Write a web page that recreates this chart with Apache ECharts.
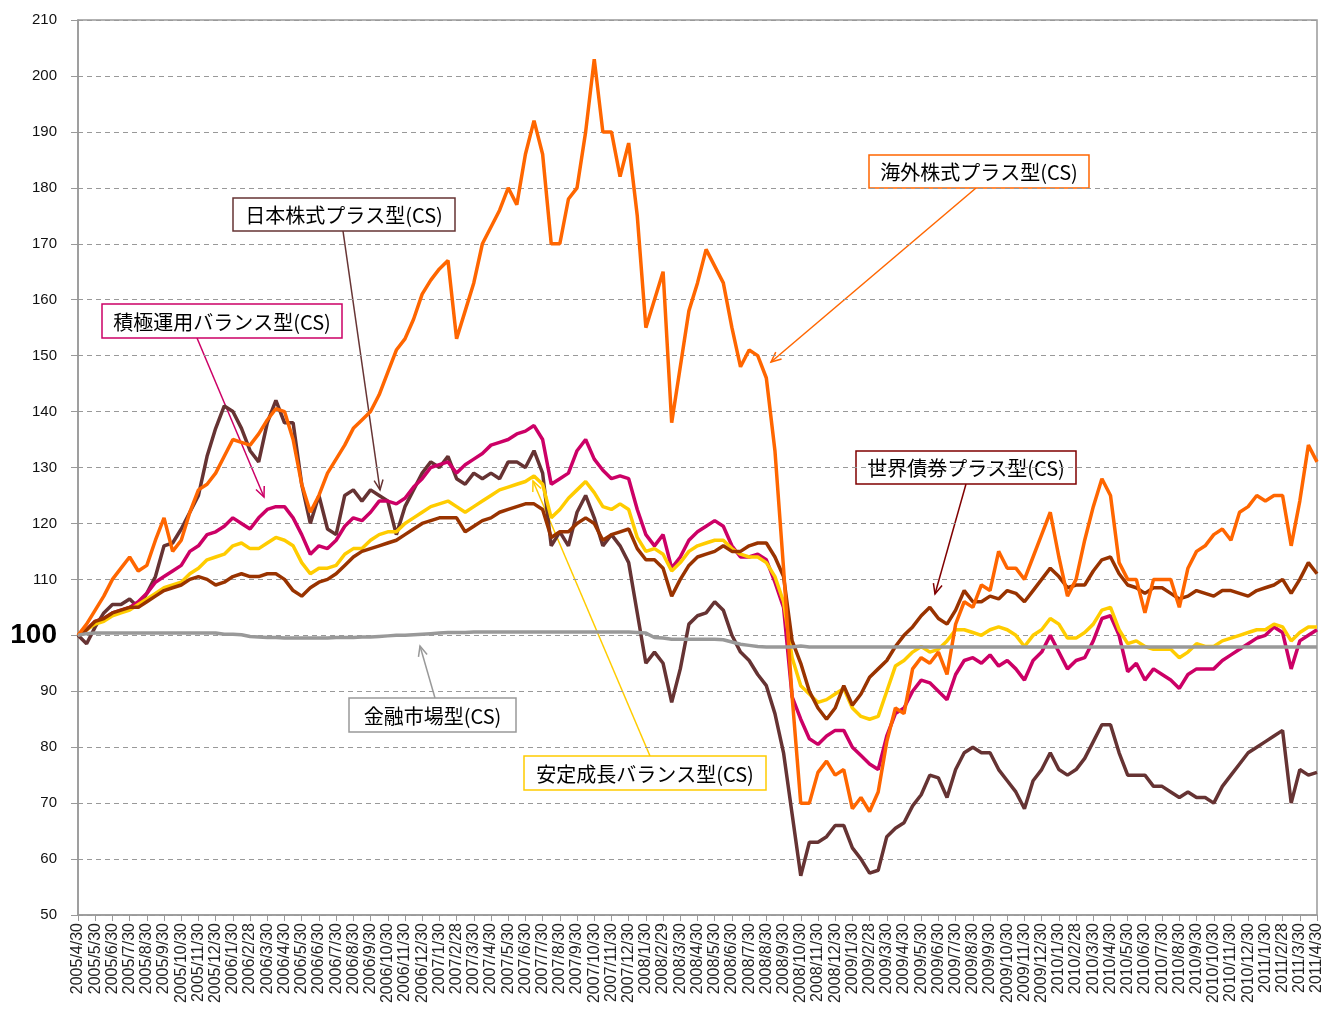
<!DOCTYPE html>
<html>
<head>
<meta charset="utf-8">
<script src="https://cdn.jsdelivr.net/npm/echarts@6/dist/echarts.min.js"></script>
<style>
html, body { margin: 0; padding: 0; background: #fff; }
#chart { width: 1325px; height: 1011px; }
</style>
</head>
<body>
<div id="chart"></div>
<script>
// month-end tick labels (one per month)
var monthLabels = [
    '2005/4/30','2005/5/30','2005/6/30','2005/7/30','2005/8/30','2005/9/30','2005/10/30','2005/11/30','2005/12/30',
    '2006/1/30','2006/2/28','2006/3/30','2006/4/30','2006/5/30','2006/6/30','2006/7/30','2006/8/30','2006/9/30','2006/10/30','2006/11/30','2006/12/30',
    '2007/1/30','2007/2/28','2007/3/30','2007/4/30','2007/5/30','2007/6/30','2007/7/30','2007/8/30','2007/9/30','2007/10/30','2007/11/30','2007/12/30',
    '2008/1/30','2008/2/29','2008/3/30','2008/4/30','2008/5/30','2008/6/30','2008/7/30','2008/8/30','2008/9/30','2008/10/30','2008/11/30','2008/12/30',
    '2009/1/30','2009/2/28','2009/3/30','2009/4/30','2009/5/30','2009/6/30','2009/7/30','2009/8/30','2009/9/30','2009/10/30','2009/11/30','2009/12/30',
    '2010/1/30','2010/2/28','2010/3/30','2010/4/30','2010/5/30','2010/6/30','2010/7/30','2010/8/30','2010/9/30','2010/10/30','2010/11/30','2010/12/30',
    '2011/1/30','2011/2/28','2011/3/30','2011/4/30'
];

// values, twice a month (month end + mid month)
var kaigai = [ // 海外株式プラス型(CS)
    100, 102, 104.5, 107, 110, 112, 114, 111.5, 112.5, 117,
    121, 115, 117, 122, 126, 127, 129, 132, 135, 134.5,
    134, 136, 138.5, 140.5, 140, 135, 127, 122, 125, 129,
    131.5, 134, 137, 138.5, 140, 143, 147, 151, 153, 156.5,
    161, 163.5, 165.5, 167, 153, 158, 163, 170, 173, 176,
    180, 177, 186, 192, 186, 170, 170, 178, 180, 190,
    203, 190, 190, 182, 188, 175, 155, 160, 165, 138,
    148, 158, 163, 169, 166, 163, 155, 148, 151, 150,
    146, 133, 112, 89, 70, 70, 75.5, 77.5, 75, 76,
    69, 71, 68.5, 72, 81, 87, 86, 94, 96, 95,
    97, 93, 102, 106, 105, 109, 108, 115, 112, 112,
    110, 114, 118, 122, 114, 107, 110, 117, 123, 128,
    125, 113, 110, 110, 104, 110, 110, 110, 105, 112,
    115, 116, 118, 119, 117, 122, 123, 125, 124, 125,
    125, 116, 124, 134, 131
];
var nihon = [ // 日本株式プラス型(CS)
    100, 98.5, 101.5, 104, 105.5, 105.5, 106.5, 105, 107.5, 110.5,
    116, 116.5, 119, 122, 125, 132, 137, 141, 140, 137,
    133, 131, 138, 142, 138, 138, 127, 120, 125, 119,
    118, 125, 126, 124, 126, 125, 124, 118, 123, 126,
    129, 131, 130, 132, 128, 127, 129, 128, 129, 128,
    131, 131, 130, 133, 129, 116, 118.5, 116, 122, 125,
    121, 116, 118, 116, 113, 104, 95, 97, 95, 88,
    94, 102, 103.5, 104, 106, 104.5, 100, 97, 95.5, 93,
    91, 86, 79, 68, 57, 63, 63, 64, 66, 66,
    62, 60, 57.5, 58, 64, 65.5, 66.5, 69.5, 71.5, 75,
    74.5, 71, 76, 79, 80, 79, 79, 76, 74, 72,
    69, 74, 76, 79, 76, 75, 76, 78, 81, 84,
    84, 79, 75, 75, 75, 73, 73, 72, 71, 72,
    71, 71, 70, 73, 75, 77, 79, 80, 81, 82,
    83, 70, 76, 75, 75.5
];
var sekkyoku = [ // 積極運用バランス型(CS)
    100, 101, 102.5, 103, 104, 104.5, 105, 106, 107.5, 109.5,
    110.5, 111.5, 112.5, 115, 116, 118, 118.5, 119.5, 121, 120,
    119, 121, 122.5, 123, 123, 121, 118, 114.5, 116, 115.5,
    117, 119.5, 121, 120.5, 122, 124, 124, 123.5, 124.5, 126.5,
    128, 130, 130.5, 131, 129, 130.5, 131.5, 132.5, 134, 134.5,
    135, 136, 136.5, 137.5, 135, 127, 128, 129, 133, 135,
    131.5, 129.5, 128, 128.5, 128, 122.5, 118, 116, 118, 112,
    114, 117, 118.5, 119.5, 120.5, 119.5, 116, 114, 114, 114.5,
    113.5, 109.5, 105, 89, 85, 81.5, 80.5, 82, 83, 83,
    80, 78.5, 77, 76, 82, 86, 87, 90, 92, 91.5,
    90, 88.5, 93, 95.5, 96, 95, 96.5, 94.5, 95.5, 94,
    92, 95.5, 97, 100, 97, 94, 95.5, 96, 99, 103,
    103.5, 100, 93.5, 95, 92, 94, 93, 92, 90.5, 93,
    94, 94, 94, 95.5, 96.5, 97.5, 98.5, 99.5, 100, 101.5,
    100.5, 94, 99, 100, 101
];
var antei = [ // 安定成長バランス型(CS)
    100, 101, 102, 102.5, 103.5, 104, 104.5, 105.5, 106.5, 107.5,
    108.5, 109, 109.5, 111, 112, 113.5, 114, 114.5, 116, 116.5,
    115.5, 115.5, 116.5, 117.5, 117, 116, 113, 111, 112, 112,
    112.5, 114.5, 115.5, 115.5, 117, 118, 118.5, 118.5, 120, 121,
    122, 123, 123.5, 124, 123, 122, 123, 124, 125, 126,
    126.5, 127, 127.5, 128.5, 127, 121, 122.5, 124.5, 126, 127.5,
    125.5, 123, 122.5, 123.5, 122.5, 117.5, 115, 115.5, 114.5, 111.5,
    113, 115, 116, 116.5, 117, 117, 115.5, 114.5, 114, 114,
    113, 110.5, 106, 96, 91, 89.5, 88, 88.5, 89.5, 90.5,
    87, 85.5, 85, 85.5, 90, 94.5, 95.5, 97, 98, 97,
    97.5, 99, 101, 101, 100.5, 100, 101, 101.5, 101, 100,
    98, 100, 101, 103, 102, 99.5, 99.5, 100.5, 102, 104.5,
    105, 101, 98.5, 99, 98, 97.5, 97.5, 97.5, 96, 97,
    98.5, 98, 98, 99, 99.5, 100, 100.5, 101, 101, 102,
    101.5, 99, 100.5, 101.5, 101.5
];
var sekai = [ // 世界債券プラス型(CS)
    100, 101, 102.5, 103, 104, 104.5, 105, 105, 106, 107,
    108, 108.5, 109, 110, 110.5, 110, 109, 109.5, 110.5, 111,
    110.5, 110.5, 111, 111, 110, 108, 107, 108.5, 109.5, 110,
    111, 112.5, 114, 115, 115.5, 116, 116.5, 117, 118, 119,
    120, 120.5, 121, 121, 121, 118.5, 119.5, 120.5, 121, 122,
    122.5, 123, 123.5, 123.5, 122.5, 117.5, 118.5, 118.5, 120, 121,
    120, 117, 118, 118.5, 119, 115.5, 113.5, 113.5, 112, 107,
    110, 112.5, 114, 114.5, 115, 116, 115, 115, 116, 116.5,
    116.5, 114, 110.5, 99, 95, 90, 87, 85, 87, 91,
    87.5, 89.5, 92.5, 94, 95.5, 98, 100, 101.5, 103.5, 105,
    103, 102, 104.5, 108, 106, 106, 107, 106.5, 108, 107.5,
    106, 108, 110, 112, 110.5, 108.5, 109, 109, 111.5, 113.5,
    114, 111, 109, 108.5, 107.5, 108.5, 108.5, 107.5, 106.5, 107,
    108, 107.5, 107, 108, 108, 107.5, 107, 108, 108.5, 109,
    110, 107.5, 110, 113, 111
];
var kinyu = [ // 金融市場型(CS)
    100, 100.3, 100.4, 100.4, 100.4, 100.4, 100.4, 100.4, 100.4, 100.4,
    100.4, 100.4, 100.4, 100.4, 100.4, 100.4, 100.4, 100.2, 100.2, 100.1,
    99.8, 99.7, 99.6, 99.6, 99.5, 99.5, 99.5, 99.5, 99.5, 99.5,
    99.6, 99.6, 99.6, 99.7, 99.7, 99.8, 99.9, 100, 100, 100.1,
    100.2, 100.3, 100.4, 100.5, 100.5, 100.5, 100.6, 100.6, 100.6, 100.6,
    100.6, 100.6, 100.6, 100.6, 100.6, 100.6, 100.6, 100.6, 100.6, 100.6,
    100.6, 100.6, 100.6, 100.6, 100.6, 100.5, 100.4, 99.6, 99.5, 99.3,
    99.3, 99.3, 99.3, 99.3, 99.3, 99.2, 98.8, 98.4, 98.2, 98,
    97.9, 97.9, 97.9, 97.9, 98.1, 97.9, 97.9, 97.9, 97.9, 97.9,
    97.9, 97.9, 97.9, 97.9, 97.9, 97.9, 97.9, 97.9, 97.9, 97.9,
    97.9, 97.9, 97.9, 97.9, 97.9, 97.9, 97.9, 97.9, 97.9, 97.9,
    97.9, 97.9, 97.9, 97.9, 97.9, 97.9, 97.9, 97.9, 97.9, 97.9,
    97.9, 97.9, 97.9, 97.9, 97.9, 97.9, 97.9, 97.9, 97.9, 97.9,
    97.9, 97.9, 97.9, 97.9, 97.9, 97.9, 97.9, 97.9, 97.9, 97.9,
    97.9, 97.9, 97.9, 97.9, 97.9
];

// category list: month ends with a mid-month point in between
var categories = [];
for (var k = 0; k < monthLabels.length; k++) {
    categories.push(monthLabels[k]);
    if (k < monthLabels.length - 1) {
        categories.push(monthLabels[k + 1].replace(/\/\d+$/, '/15'));
    }
}

var chart = echarts.init(document.getElementById('chart'), null, { renderer: 'canvas' });

var jpFont = '"Noto Sans CJK JP", "Noto Sans CJK SC", sans-serif';
var numFont = 'Liberation Sans, Arial, sans-serif';

// 注記ボックス
function labelBox(text, x, y, w, h, color) {
    return {
        type: 'group',
        z: 100,
        children: [{
            type: 'rect',
            shape: { x: x, y: y, width: w, height: h },
            style: { fill: '#fff', stroke: color, lineWidth: 1.5 }
        }, {
            type: 'text',
            x: x + w / 2,
            y: y + h / 2 + 1,
            style: {
                text: text,
                font: '20px ' + jpFont,
                fill: '#000',
                align: 'center',
                verticalAlign: 'middle'
            }
        }]
    };
}

// 矢印
function arrow(x1, y1, x2, y2, color) {
    var ang = Math.atan2(y2 - y1, x2 - x1);
    var L = 11, a = 0.42;
    var p1 = [x2 - L * Math.cos(ang - a), y2 - L * Math.sin(ang - a)];
    var p2 = [x2 - L * Math.cos(ang + a), y2 - L * Math.sin(ang + a)];
    return {
        type: 'group',
        z: 99,
        children: [{
            type: 'line',
            shape: { x1: x1, y1: y1, x2: x2, y2: y2 },
            style: { stroke: color, lineWidth: 1.5 }
        }, {
            type: 'polyline',
            shape: { points: [p1, [x2, y2], p2] },
            style: { stroke: color, lineWidth: 1.5, fill: null }
        }]
    };
}

function lineSeries(name, data, color, z) {
    return {
        name: name,
        type: 'line',
        data: data,
        showSymbol: false,
        symbol: 'none',
        z: z,
        lineStyle: { color: color, width: 3.5 },
        itemStyle: { color: color }
    };
}

var option = {
    backgroundColor: '#fff',
    animation: false,
    grid: {
        left: 78, right: 7, top: 20, bottom: 96, containLabel: false,
        show: true, borderColor: '#999', borderWidth: 1.5
    },
    xAxis: {
        type: 'category',
        data: categories,
        boundaryGap: false,
        axisLine: { lineStyle: { color: '#999', width: 1.5 } },
        axisTick: {
            length: 6,
            interval: function (idx) { return idx % 2 === 0; },
            lineStyle: { color: '#999' }
        },
        axisLabel: {
            interval: function (idx) { return idx % 2 === 0; },
            rotate: 90,
            margin: 8,
            fontSize: 16,
            fontFamily: numFont,
            color: '#222'
        },
        splitLine: { show: false }
    },
    yAxis: {
        type: 'value',
        min: 50,
        max: 210,
        interval: 10,
        axisLine: { show: true, lineStyle: { color: '#999', width: 1.5 } },
        axisTick: { show: true, length: 7, lineStyle: { color: '#999' } },
        axisLabel: {
            margin: 21,
            fontSize: 15,
            fontFamily: numFont,
            color: '#111',
            formatter: function (v) { return v === 100 ? '{big|100}' : String(v); },
            rich: {
                big: { fontSize: 28, fontWeight: 'bold', color: '#000', fontFamily: numFont }
            }
        },
        splitLine: { show: true, lineStyle: { color: '#999', type: [5, 4], width: 1 } }
    },
    series: [
        lineSeries('日本株式プラス型(CS)', nihon, '#663333', 2),
        lineSeries('積極運用バランス型(CS)', sekkyoku, '#CC0066', 3),
        lineSeries('安定成長バランス型(CS)', antei, '#FFCC00', 4),
        lineSeries('世界債券プラス型(CS)', sekai, '#993300', 5),
        lineSeries('海外株式プラス型(CS)', kaigai, '#FF6600', 6),
        lineSeries('金融市場型(CS)', kinyu, '#999999', 7)
    ],
    graphic: [
        arrow(343, 231, 380, 490, '#663333'),
        arrow(197, 338, 264, 497, '#CC0066'),
        arrow(976, 188, 771, 362, '#FF6600'),
        arrow(966, 484, 935, 594, '#800000'),
        arrow(435, 698, 420, 646, '#999999'),
        arrow(650, 756, 533, 481, '#FFCC00'),
        labelBox('日本株式プラス型(CS)', 233, 198, 222, 33, '#663333'),
        labelBox('積極運用バランス型(CS)', 102, 304, 240, 34, '#CC0066'),
        labelBox('海外株式プラス型(CS)', 869, 155, 220, 33, '#FF6600'),
        labelBox('世界債券プラス型(CS)', 856, 451, 220, 33, '#800000'),
        labelBox('金融市場型(CS)', 349, 698, 167, 34, '#999999'),
        labelBox('安定成長バランス型(CS)', 524, 756, 242, 34, '#FFCC00')
    ]
};

chart.setOption(option);
</script>
</body>
</html>
